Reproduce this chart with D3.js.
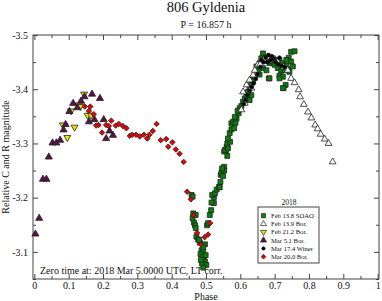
<!DOCTYPE html>
<html>
<head>
<meta charset="utf-8">
<script src="https://cdn.jsdelivr.net/npm/d3@7"></script>
<style>
  body { margin: 0; background: #fff; }
  text { font-family: "Liberation Serif", "DejaVu Serif", serif; fill: #111; }
</style>
</head>
<body>
<svg></svg>
<script>
// phase, relative magnitude
let soao = [
  [0.458,-3.205],[0.461,-3.202],[0.461,-3.162],[0.463,-3.171],[0.465,-3.154],[0.468,-3.149],[0.470,-3.168],
  [0.472,-3.128],[0.477,-3.123],[0.482,-3.117],[0.487,-3.103],[0.492,-3.100],[0.484,-3.096],[0.490,-3.091],
  [0.494,-3.085],[0.497,-3.082],[0.501,-3.076],[0.488,-3.079],[0.492,-3.071],[0.499,-3.094],[0.485,-3.085],
  [0.497,-3.114],[0.492,-3.109],[0.480,-3.122],[0.470,-3.144],[0.503,-3.149],[0.506,-3.153],[0.511,-3.168],
  [0.515,-3.177],[0.523,-3.190],[0.516,-3.191],[0.523,-3.201],[0.518,-3.205],[0.526,-3.208],[0.531,-3.215],
  [0.538,-3.220],[0.542,-3.229],[0.543,-3.242],[0.548,-3.251],[0.553,-3.257],[0.545,-3.246],[0.553,-3.250],
  [0.547,-3.254],[0.550,-3.240],[0.558,-3.286],[0.562,-3.277],[0.553,-3.285],[0.555,-3.288],[0.560,-3.294],
  [0.564,-3.291],[0.562,-3.300],[0.570,-3.303],[0.564,-3.309],[0.569,-3.319],[0.574,-3.326],[0.582,-3.328],
  [0.574,-3.337],[0.579,-3.340],[0.586,-3.338],[0.589,-3.346],[0.584,-3.349],[0.595,-3.356],[0.592,-3.360],
  [0.598,-3.365],[0.603,-3.369],[0.608,-3.377],[0.613,-3.383],[0.627,-3.380],[0.618,-3.389],[0.632,-3.389],
  [0.622,-3.395],[0.627,-3.405],[0.632,-3.411],[0.637,-3.417],[0.642,-3.423],[0.656,-3.427],[0.651,-3.435],
  [0.647,-3.442],[0.666,-3.439],[0.676,-3.435],[0.683,-3.420],[0.685,-3.448],[0.690,-3.451],[0.656,-3.448],
  [0.666,-3.466],[0.671,-3.458],[0.661,-3.457],[0.680,-3.452],[0.695,-3.457],[0.705,-3.454],[0.714,-3.454],
  [0.700,-3.445],[0.724,-3.448],[0.734,-3.443],[0.709,-3.439],[0.719,-3.434],[0.729,-3.435],[0.738,-3.437],
  [0.743,-3.432],[0.714,-3.425],[0.724,-3.423],[0.714,-3.420],[0.732,-3.408],[0.726,-3.402],[0.748,-3.469],
  [0.758,-3.470],[0.741,-3.458],[0.748,-3.451],[0.753,-3.442],[0.734,-3.454],[0.540,-3.219],[0.685,-3.420],
  [0.724,-3.402]
];

let bor139 = [
  [0.748,-3.420],[0.758,-3.412],[0.770,-3.399],[0.774,-3.386],[0.785,-3.372],[0.797,-3.358],[0.807,-3.347],
  [0.818,-3.334],[0.825,-3.327],[0.834,-3.317],[0.846,-3.308],[0.857,-3.300],[0.869,-3.266],
  [0.603,-3.362],[0.613,-3.374],[0.608,-3.395],[0.618,-3.408],[0.627,-3.417],[0.637,-3.426],[0.642,-3.435],
  [0.651,-3.445],[0.658,-3.446],[0.668,-3.454],[0.679,-3.459],[0.695,-3.456],[0.709,-3.450],[0.726,-3.441],
  [0.738,-3.435],[0.632,-3.402]
];

let bor212 = [
  [0.096,-3.311],[0.083,-3.334],[0.117,-3.330],[0.107,-3.360],[0.129,-3.371],[0.134,-3.368],[0.145,-3.391],
  [0.155,-3.352],[0.165,-3.352]
];

let bor51 = [
  [0.003,-3.133],[0.014,-3.162],[0.025,-3.234],[0.035,-3.234],[0.042,-3.275],[0.053,-3.301],[0.064,-3.301],
  [0.075,-3.306],[0.085,-3.325],[0.091,-3.335],[0.102,-3.359],[0.113,-3.374],[0.125,-3.366],[0.136,-3.378],
  [0.146,-3.386],[0.168,-3.391],[0.191,-3.383],[0.159,-3.340],[0.175,-3.344],[0.202,-3.344],[0.219,-3.323],
  [0.229,-3.315],[0.209,-3.309]
];

let winer = [
  [0.610,-3.373],[0.616,-3.380],[0.621,-3.389],[0.627,-3.397],[0.633,-3.404],[0.639,-3.411],[0.645,-3.419],
  [0.650,-3.428],[0.659,-3.441],[0.668,-3.450],[0.674,-3.459],[0.682,-3.463],[0.691,-3.461],[0.697,-3.456],
  [0.703,-3.450],[0.711,-3.446],[0.720,-3.443],[0.729,-3.441],[0.679,-3.450],[0.688,-3.454],[0.662,-3.454],
  [0.714,-3.458]
];

let bor200 = [
  [0.147,-3.368],[0.163,-3.368],[0.159,-3.360],[0.173,-3.354],[0.187,-3.334],[0.180,-3.333],[0.209,-3.334],
  [0.217,-3.332],[0.197,-3.320],[0.224,-3.342],[0.237,-3.333],[0.246,-3.336],[0.258,-3.332],[0.268,-3.328],
  [0.278,-3.314],[0.285,-3.316],[0.296,-3.316],[0.307,-3.313],[0.319,-3.316],[0.329,-3.309],[0.335,-3.316],
  [0.345,-3.323],[0.356,-3.336],[0.368,-3.306],[0.384,-3.308],[0.390,-3.294],[0.402,-3.302],[0.412,-3.289],
  [0.423,-3.281],[0.435,-3.266],[0.445,-3.211],[0.456,-3.197],[0.463,-3.168],[0.474,-3.135],[0.485,-3.114],
  [0.496,-3.127],[0.506,-3.132],[0.512,-3.153]
];

let seriesNames = ["Feb 13.8 SOAO", "Feb 13.9 Bor.", "Feb 21.2 Bor.", "Mar 5.1 Bor.", "Mar 17.4 Winer", "Mar 20.0 Bor."];
let xTicks = [0, 0.1, 0.2, 0.3, 0.4, 0.5, 0.6, 0.7, 0.8, 0.9, 1];
let xMinor = [0.05, 0.15, 0.25, 0.35, 0.45, 0.55, 0.65, 0.75, 0.85, 0.95];
let yTicks = [-3.5, -3.4, -3.3, -3.2, -3.1];
let yMinor = [-3.45, -3.35, -3.25, -3.15, -3.05];

/***************************/

let W = 382, H = 301;
let margin = {top: 35, right: 3, bottom: 22, left: 33};
let width = W - margin.left - margin.right;
let height = H - margin.top - margin.bottom;

let xScale = d3.scaleLinear().domain([-0.004, 1.004]).range([0, width]);
let yScale = d3.scaleLinear().domain([-3.5, -3.05]).range([0, height]);

let svg = d3.select("svg").attr("width", W).attr("height", H);

svg.append("text").attr("x", margin.left + width / 2).attr("y", 12)
   .attr("text-anchor", "middle").style("font-size", "14.5px").text("806 Gyldenia");
svg.append("text").attr("x", margin.left + width / 2).attr("y", 27.5)
   .attr("text-anchor", "middle").style("font-size", "10px").text("P = 16.857 h");

let g = svg.append("g").attr("transform", `translate(${margin.left}, ${margin.top})`);

let axisColor = "#444";
function styleAxis(sel) {
  sel.select(".domain").remove();
  sel.selectAll(".tick line").attr("stroke", axisColor);
  sel.selectAll(".tick text").style("font-family", "Liberation Serif, serif").style("font-size", "10px").attr("fill", "#111");
}

let fmt = d => d3.format(".1f")(d).replace(/\.0$/, "");
let yfmt = d => d.toFixed(1);

g.append("g").attr("transform", `translate(0, ${height})`)
  .call(d3.axisBottom(xScale).tickValues(xTicks).tickSize(-5).tickPadding(3).tickFormat(fmt)).call(styleAxis);
g.append("g").attr("transform", `translate(0, ${height})`)
  .call(d3.axisBottom(xScale).tickValues(xMinor).tickSize(-3).tickFormat("")).call(styleAxis);
g.append("g")
  .call(d3.axisTop(xScale).tickValues(xTicks).tickSize(-5).tickFormat("")).call(styleAxis);
g.append("g")
  .call(d3.axisTop(xScale).tickValues(xMinor).tickSize(-3).tickFormat("")).call(styleAxis);
g.append("g")
  .call(d3.axisLeft(yScale).tickValues(yTicks).tickSize(-5).tickPadding(5).tickFormat(yfmt)).call(styleAxis);
g.append("g")
  .call(d3.axisLeft(yScale).tickValues(yMinor).tickSize(-3).tickFormat("")).call(styleAxis);
g.append("g").attr("transform", `translate(${width}, 0)`)
  .call(d3.axisRight(yScale).tickValues(yTicks).tickSize(-5).tickFormat("")).call(styleAxis);
g.append("g").attr("transform", `translate(${width}, 0)`)
  .call(d3.axisRight(yScale).tickValues(yMinor).tickSize(-3).tickFormat("")).call(styleAxis);

g.append("rect").attr("x", 0).attr("y", 0).attr("width", width).attr("height", height)
  .attr("fill", "none").attr("stroke", axisColor).attr("stroke-width", 1);

// axis titles
svg.append("text").attr("x", margin.left + width / 2).attr("y", 299.5)
  .attr("text-anchor", "middle").style("font-size", "10px").text("Phase");
svg.append("text").attr("transform", `translate(9, ${margin.top + height / 2}) rotate(-90)`)
  .attr("text-anchor", "middle").style("font-size", "10px").text("Relative C and R magnitude");

g.append("text").attr("x", 7).attr("y", height - 5).style("font-size", "10px")
  .text("Zero time at: 2018 Mar 5.0000 UTC, LT corr.");

// series styles
let styles = [
  {data: soao,   type: d3.symbolSquare,   size: 24, fill: "#0a7f0a", rot: 0},
  {data: bor139, type: d3.symbolTriangle, size: 20, fill: "#ffffff", rot: 0},
  {data: bor212, type: d3.symbolTriangle, size: 21, fill: "#e6e600", rot: 180},
  {data: bor51,  type: d3.symbolTriangle, size: 22, fill: "#5a1246", rot: 0},
  {data: winer,  type: d3.symbolCircle,   size: 12, fill: "#000000", rot: 0},
  {data: bor200, type: d3.symbolSquare,   size: 15, fill: "#ee0000", rot: 45}
];

styles.forEach(s => {
  let sym = d3.symbol().type(s.type).size(s.size);
  g.append("g").selectAll("path").data(s.data).join("path")
    .attr("d", sym)
    .attr("transform", d => `translate(${xScale(d[0])}, ${yScale(d[1])}) rotate(${s.rot})`)
    .attr("fill", s.fill)
    .attr("stroke", "#222")
    .attr("stroke-width", 0.8);
});

// legend
let lg = svg.append("g").attr("transform", "translate(258, 207)");
lg.append("rect").attr("width", 61).attr("height", 56)
  .attr("fill", "#fff").attr("stroke", axisColor).attr("stroke-width", 1);
svg.append("text").attr("x", 289).attr("y", 204.5).attr("text-anchor", "middle")
  .style("font-size", "7.5px").text("2018");
let rowY = d3.scaleLinear().domain([0, 5]).range([8.7, 49.7]);
styles.forEach((s, i) => {
  let sym = d3.symbol().type(s.type).size(s.size * 0.75);
  lg.append("path").attr("d", sym)
    .attr("transform", `translate(5.5, ${rowY(i)}) rotate(${s.rot})`)
    .attr("fill", s.fill).attr("stroke", "#222").attr("stroke-width", 0.7);
  lg.append("text").attr("x", 13).attr("y", rowY(i) + 2.3)
    .style("font-size", "6.6px").text(seriesNames[i]);
});
</script>
</body>
</html>
